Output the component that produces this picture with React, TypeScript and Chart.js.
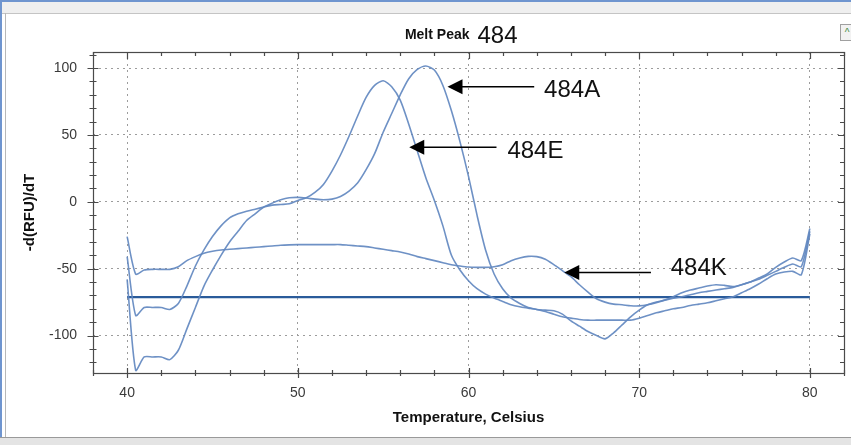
import React, { useEffect, useRef } from "react";
import { Chart, registerables } from "chart.js";

Chart.register(...registerables);

// ---- data (temperature in °C, -d(RFU)/dT) ----
const temps = [
  40, 40.5, 41, 41.5, 42, 42.5, 43, 43.5, 44, 44.5, 45, 45.5, 46, 46.5, 47, 47.5,
  48, 48.5, 49, 49.5, 50, 50.5, 51, 51.5, 52, 52.5, 53, 53.5, 54, 54.5, 55, 55.5,
  56, 56.5, 57, 57.5, 58, 58.5, 59, 59.5, 60, 60.5, 61, 61.5, 62, 62.5, 63, 63.5,
  64, 64.5, 65, 65.5, 66, 66.5, 67, 67.5, 68, 68.5, 69, 69.5, 70, 70.5, 71, 71.5,
  72, 72.5, 73, 73.5, 74, 74.5, 75, 75.5, 76, 76.5, 77, 77.5, 78, 78.5, 79, 79.5, 80,
];

const melt484A = [
  -58, -126, -116, -116, -116, -118, -111, -95, -79, -63, -51, -40, -30, -22, -14, -9,
  -4, -1, 1.5, 3, 3.3, 2.8, 2, 1.5, 2, 4, 8, 14, 24, 36, 52, 66,
  80, 92, 99, 101.5, 98.5, 87, 68, 45, 19, -10, -36, -54, -65, -72, -76, -79,
  -80.5, -82, -84, -86, -87, -88, -88.5, -88.5, -88.5, -88.5, -88.5, -88.5, -87, -85, -83, -81.5,
  -80, -79, -77.5, -76.5, -75.5, -74, -72.5, -71, -68, -65, -61.5, -57.5, -54, -52.5, -52, -54.5, -24,
];

const melt484E = [
  -41, -85, -79, -79, -79, -80.5, -76, -63, -48, -36, -26, -18, -12, -9, -7, -5.5,
  -4, -2.5, -2, -1.5, 1, 3, 7, 13, 23, 35, 49, 64, 78, 87, 90.5, 86,
  76, 58, 38, 18, 1, -18, -40, -51, -59, -65, -69, -72, -74.5, -77, -78.5, -79.5,
  -80.5, -81, -81.5, -84, -89, -93, -97, -100, -102.5, -98, -92, -86, -81, -77, -75, -73.5,
  -71, -68, -66, -64.5, -63, -62, -62.5, -63.4, -62, -60, -57, -54, -49, -45, -42, -44, -20,
];

const melt484K = [
  -26, -54, -51, -50.5, -50.5, -50.5, -48.5, -44, -41, -38.5, -37, -36, -35.5, -35, -34.5, -34,
  -33.5, -33, -32.5, -32.2, -32, -32, -32, -32, -32, -32, -32.5, -33, -33.5, -34.5, -35.5, -36.5,
  -37.5, -39, -41, -42.5, -44, -45.5, -47, -48, -48.8, -49, -49, -48.5, -47, -44, -42, -40.8,
  -41, -43, -47, -51.5, -56, -62, -67.5, -72.5, -75, -76.5, -77, -77.7, -77.8, -77, -75.5, -73.5,
  -72, -71, -69.5, -68, -67, -66, -65, -64, -62, -60, -58, -55, -52, -49, -46.5, -48.5, -22,
];

const thresholdTemps = [40, 80];
const thresholdValue = -71.3;

const xTickLabels = [40, 50, 60, 70, 80];
const yTickLabels = [-100, -50, 0, 50, 100];

const callouts = [
  { label: "484A", tipT: 58.77, tailT: 63.85, arrowV: 86.0, textT: 64.43, textV: 78.5 },
  { label: "484E", tipT: 56.53, tailT: 61.64, arrowV: 40.8, textT: 62.28, textV: 32.9 },
  { label: "484K", tipT: 65.61, tailT: 70.69, arrowV: -52.9, textT: 71.85, textV: -54.6 },
];

const FONT = "'Liberation Sans', Arial, Helvetica, sans-serif";
const CURVE = "rgba(98,136,192,0.92)";

const decorPlugin = {
  id: "decor",
  afterDraw(chart: any) {
    const { ctx, chartArea: a, scales } = chart;
    const x = scales.x;
    const y = scales.y;
    ctx.save();
    // frame
    ctx.strokeStyle = "#4a4a4a";
    ctx.lineWidth = 1.2;
    ctx.strokeRect(Math.round(a.left) + 0.5, Math.round(a.top) + 0.5, Math.round(a.right - a.left), Math.round(a.bottom - a.top));
    // x ticks (minor every 2)
    for (let t = 38; t <= 82; t += 2) {
      const px = Math.round(x.getPixelForValue(t)) + 0.5;
      const major = t % 10 === 0;
      const len = major ? 5 : 3;
      ctx.beginPath();
      ctx.moveTo(px, a.bottom - len);
      ctx.lineTo(px, a.bottom + len);
      ctx.moveTo(px, a.top);
      ctx.lineTo(px, a.top + (major ? 7 : 4));
      ctx.stroke();
    }
    // y ticks (minor every 10)
    for (let v = -120; v <= 110; v += 10) {
      const py = Math.round(y.getPixelForValue(v)) + 0.5;
      const major = v % 50 === 0;
      const len = major ? 5.5 : 3.5;
      ctx.beginPath();
      ctx.moveTo(a.left - len, py);
      ctx.lineTo(a.left + len, py);
      ctx.moveTo(a.right, py);
      ctx.lineTo(a.right - (major ? 6 : 4), py);
      ctx.stroke();
    }
    // title
    const cx = (a.left + a.right) / 2;
    ctx.fillStyle = "#111";
    ctx.textBaseline = "alphabetic";
    ctx.textAlign = "right";
    ctx.font = `bold 14px ${FONT}`;
    ctx.fillText("Melt Peak", cx + 1, 39);
    ctx.textAlign = "left";
    ctx.font = `24px ${FONT}`;
    ctx.fillText("484", cx + 9, 43);
    // callouts
    for (const c of callouts) {
      const tip = x.getPixelForValue(c.tipT);
      const tail = x.getPixelForValue(c.tailT);
      const ay = y.getPixelForValue(c.arrowV);
      ctx.strokeStyle = "#000";
      ctx.fillStyle = "#000";
      ctx.lineWidth = 1.5;
      ctx.beginPath();
      ctx.moveTo(tip + 12, ay);
      ctx.lineTo(tail, ay);
      ctx.stroke();
      ctx.beginPath();
      ctx.moveTo(tip, ay);
      ctx.lineTo(tip + 15, ay - 7.5);
      ctx.lineTo(tip + 15, ay + 7.5);
      ctx.closePath();
      ctx.fill();
      ctx.font = `24px ${FONT}`;
      ctx.textAlign = "left";
      ctx.textBaseline = "alphabetic";
      ctx.fillStyle = "#111";
      ctx.fillText(c.label, x.getPixelForValue(c.textT), y.getPixelForValue(c.textV));
    }
    ctx.restore();
  },
};

export default function App() {
  const ref = useRef<HTMLCanvasElement | null>(null);

  useEffect(() => {
    const canvas = ref.current;
    if (!canvas) return;
    const series = (vals: number[]) => temps.map((t, i) => ({ x: t, y: vals[i] }));
    const curve = (label: string, vals: number[]) => ({
      label,
      data: series(vals),
      borderColor: CURVE,
      borderWidth: 1.6,
      pointRadius: 0,
      tension: 0.25,
      fill: false,
    });
    const chart = new Chart(canvas, {
      type: "line",
      data: {
        datasets: [
          curve("484A", melt484A),
          curve("484E", melt484E),
          curve("484K", melt484K),
          {
            label: "threshold",
            data: thresholdTemps.map((t) => ({ x: t, y: thresholdValue })),
            borderColor: "#2a5b9a",
            borderWidth: 2.2,
            pointRadius: 0,
            fill: false,
          },
        ],
      },
      options: {
        responsive: false,
        animation: false,
        devicePixelRatio: 1,
        layout: { padding: { left: 0, right: 7, top: 52, bottom: 0 } },
        plugins: {
          legend: { display: false },
          tooltip: { enabled: false },
          title: { display: false },
        },
        scales: {
          x: {
            type: "linear",
            min: 38,
            max: 82,
            afterFit: (s: any) => {
              s.height = 72;
            },
            afterBuildTicks: (s: any) => {
              s.ticks = xTickLabels.map((v) => ({ value: v }));
            },
            grid: { color: "#9c9c9c", lineWidth: 1, drawTicks: false },
            border: { display: false, dash: [2, 4] },
            ticks: {
              padding: 12,
              color: "#3a3a3a",
              font: { family: FONT, size: 14 },
              maxRotation: 0,
              autoSkip: false,
            },
            title: {
              display: true,
              text: "Temperature, Celsius",
              color: "#111",
              font: { family: FONT, size: 15, weight: "bold", lineHeight: 1.2 },
              padding: { top: 0, bottom: 18 },
            },
          },
          y: {
            type: "linear",
            min: -128,
            max: 112,
            afterFit: (s: any) => {
              s.width = 93;
            },
            afterBuildTicks: (s: any) => {
              s.ticks = yTickLabels.map((v) => ({ value: v }));
            },
            grid: { color: "#9c9c9c", lineWidth: 1, drawTicks: false },
            border: { display: false, dash: [2, 4] },
            ticks: {
              padding: 16,
              color: "#3a3a3a",
              font: { family: FONT, size: 14 },
              autoSkip: false,
            },
            title: {
              display: true,
              text: "-d(RFU)/dT",
              color: "#111",
              font: { family: FONT, size: 15, weight: "bold", lineHeight: 1.2 },
              padding: { top: 21, bottom: 0 },
            },
          },
        },
      },
      plugins: [decorPlugin],
    } as any);
    return () => chart.destroy();
  }, []);

  return (
    <div
      style={{
        position: "fixed",
        left: 0,
        top: 0,
        width: 851,
        height: 445,
        background: "#ffffff",
        overflow: "hidden",
      }}
    >
      {/* window chrome */}
      <div style={{ position: "absolute", left: 0, top: 0, width: 851, height: 2, background: "#6f95cf" }} />
      <div
        style={{
          position: "absolute",
          left: 0,
          top: 2,
          width: 851,
          height: 11,
          background: "#efefef",
          borderBottom: "1px solid #c4c4c4",
        }}
      />
      <div style={{ position: "absolute", left: 0, top: 0, width: 2, height: 445, background: "#6f95cf" }} />
      <div style={{ position: "absolute", left: 5, top: 13, width: 1, height: 425, background: "#b8b8b8" }} />
      <div
        style={{
          position: "absolute",
          left: 0,
          top: 437,
          width: 851,
          height: 8,
          background: "#e4e4e4",
          borderTop: "1px solid #9a9a9a",
        }}
      />
      <div
        style={{
          position: "absolute",
          left: 840,
          top: 24,
          width: 12,
          height: 15,
          background: "#f2f2f2",
          border: "1px solid #a0a0a0",
          fontSize: 10,
          lineHeight: "15px",
          color: "#3a8a3a",
          textAlign: "center",
          fontFamily: FONT,
        }}
      >
        ^
      </div>
      <canvas ref={ref} width={851} height={445} style={{ position: "absolute", left: 0, top: 0 }} />
    </div>
  );
}
